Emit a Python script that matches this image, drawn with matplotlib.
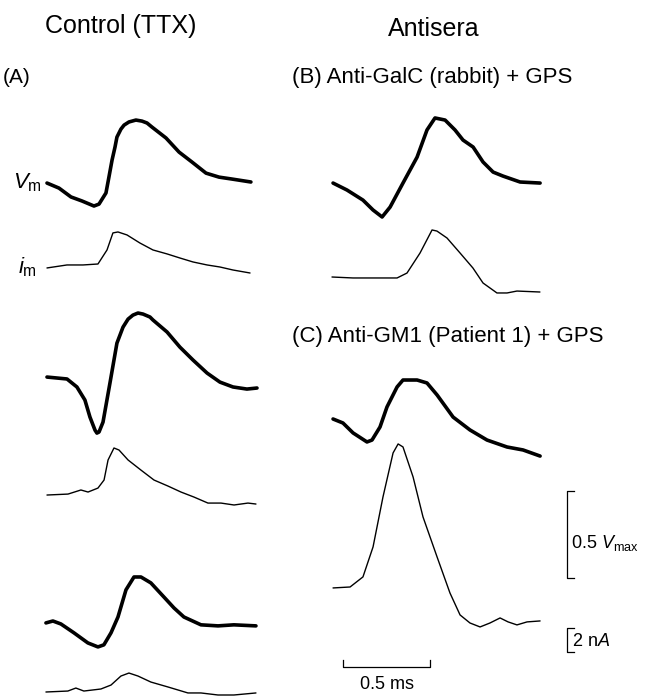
import matplotlib
matplotlib.use("Agg")
import matplotlib.pyplot as plt

plt.rcParams['font.family'] = ['Liberation Sans', 'DejaVu Sans']
plt.rcParams['mathtext.fontset'] = 'custom'
plt.rcParams['mathtext.rm'] = 'Liberation Sans'
plt.rcParams['mathtext.it'] = 'Liberation Sans:italic'

# traces: time in ms from sweep start, Vm in units of Vmax, im in nA (relative to start)
a1_t_v = [0, .069, .138, .201, .270, .299, .339, .356, .374, .391, .402, .425, .443, .471, .511, .546, .575, .603, .684, .759, .833, .914, .989, 1.063, 1.172]
a1_v = [0, -.029, -.080, -.103, -.132, -.121, -.057, .034, .132, .207, .264, .310, .333, .351, .362, .356, .345, .322, .259, .178, .121, .057, .034, .023, .006]
a1_t_i = [0, .115, .207, .293, .345, .379, .408, .460, .534, .609, .690, .764, .839, .920, .994, 1.069, 1.167]
a1_i = [0, .25, .25, .33, 1.5, 2.92, 3.0, 2.75, 2.08, 1.5, 1.17, .83, .5, .25, .08, -.17, -.42]

a2_t_v = [0, .115, .172, .218, .247, .276, .287, .299, .322, .362, .402, .437, .466, .494, .523, .552, .592, .609, .690, .764, .839, .920, .994, 1.069, 1.149, 1.207]
a2_v = [0, -.011, -.057, -.132, -.230, -.305, -.322, -.316, -.259, -.034, .195, .287, .333, .356, .368, .362, .345, .328, .259, .172, .098, .023, -.029, -.057, -.069, -.063]
a2_t_i = [0, .121, .195, .236, .293, .328, .351, .385, .414, .466, .540, .615, .695, .770, .845, .925, 1.0, 1.075, 1.155, 1.201]
a2_i = [0, .08, .42, .25, .58, 1.25, 2.92, 3.92, 3.75, 2.92, 2.08, 1.25, .75, .25, -.17, -.67, -.67, -.83, -.67, -.75]

a3_t_v = [0, .040, .086, .161, .241, .299, .333, .374, .414, .460, .506, .546, .603, .678, .736, .793, .891, .989, 1.080, 1.207]
a3_v = [0, .011, -.006, -.057, -.115, -.138, -.126, -.057, .034, .190, .264, .264, .230, .149, .086, .034, -.011, -.017, -.011, -.017]
a3_t_i = [0, .126, .172, .218, .316, .374, .431, .477, .529, .603, .701, .816, .891, .989, 1.080, 1.207]
a3_i = [0, .08, .33, .08, .25, .58, 1.33, 1.58, 1.33, .83, .42, -.08, -.08, -.25, -.25, -.08]

b_t_v = [0, .080, .172, .230, .282, .328, .402, .483, .540, .586, .644, .701, .747, .805, .862, .920, .977, 1.075, 1.190]
b_v = [0, -.040, -.098, -.155, -.195, -.138, 0, .149, .305, .374, .362, .305, .247, .207, .121, .063, .040, .006, 0]
b_t_i = [0, .121, .374, .431, .506, .575, .603, .661, .736, .810, .868, .948, 1.006, 1.063, 1.195]
b_i = [0, -.08, -.08, .33, 2.0, 3.92, 3.83, 3.25, 2.0, .75, -.5, -1.33, -1.33, -1.17, -1.25]

c_t_v = [0, .057, .115, .195, .224, .270, .310, .368, .402, .483, .540, .598, .690, .787, .885, 1.0, 1.092, 1.190]
c_v = [0, -.023, -.080, -.132, -.121, -.046, .069, .184, .224, .224, .207, .138, .011, -.063, -.121, -.161, -.178, -.213]
c_t_i = [0, .098, .172, .230, .287, .345, .374, .402, .460, .517, .598, .672, .730, .787, .845, .902, .960, 1.006, 1.057, 1.115, 1.190]
c_i = [0, .08, .92, 3.42, 7.58, 11.25, 12.0, 11.75, 9.25, 5.92, 2.58, -.42, -2.25, -2.92, -3.25, -2.92, -2.5, -2.83, -3.08, -2.83, -2.75]

# scale bars
bar_ms = 0.5
bar_vmax = 0.5
bar_na = 2

# layout (axis units: ms across, Vmax up)
NA = 12 / 174.0   # 1 nA drawn as this many Vmax units
colA, colB = 0.270, 1.914
sweeps = [
    (a1_t_v, a1_v, colA, 2.948, 1.0, 2.6),
    (a1_t_i, a1_i, colA, 2.460, NA, 1.0),
    (a2_t_v, a2_v, colA, 1.833, 1.0, 2.6),
    (a2_t_i, a2_i, colA, 1.155, NA, 1.0),
    (a3_t_v, a3_v, colA - 0.006, 0.420, 1.0, 2.6),
    (a3_t_i, a3_i, colA - 0.006, 0.023, NA, 1.0),
    (b_t_v, b_v, colB, 2.948, 1.0, 2.6),
    (b_t_i, b_i, colB - 0.006, 2.408, NA, 1.0),
    (c_t_v, c_v, colB, 1.592, 1.0, 2.6),
    (c_t_i, c_i, colB, 0.621, NA, 1.0),
]

fig = plt.figure(figsize=(6.5, 6.96), dpi=100)
ax = fig.add_axes([0, 0, 1, 1])
ax.set_xlim(0, 650 / 174.0)
ax.set_ylim(0, 696 / 174.0)
ax.axis('off')

for t, y, x0, y0, k, lw in sweeps:
    ax.plot([x0 + v for v in t], [y0 + k * v for v in y], color='black', lw=lw,
            solid_joinstyle='round', solid_capstyle='round')

# time bar
tx, ty = 343 / 174.0, 29 / 174.0
tk = 7 / 174.0
ax.plot([tx, tx, tx + bar_ms, tx + bar_ms], [ty + tk, ty, ty, ty + tk], color='black', lw=0.9)
# Vmax bar
vx, vy = 567 / 174.0, 118 / 174.0
ax.plot([vx + tk, vx, vx, vx + tk], [vy, vy, vy + bar_vmax, vy + bar_vmax], color='black', lw=0.9)
# nA bar
nx, ny = 567 / 174.0, 44 / 174.0
ax.plot([nx + tk, nx, nx, nx + tk], [ny, ny, ny + bar_na * NA, ny + bar_na * NA], color='black', lw=0.9)

fig.text(0.186, 0.963, 'Control (TTX)', fontsize=18, ha='center', va='center')
fig.text(0.667, 0.958, 'Antisera', fontsize=18, ha='center', va='center')
fig.text(0.005, 0.888, '(A)', fontsize=15, ha='left', va='center')
fig.text(0.449, 0.889, '(B) Anti-GalC (rabbit) + GPS', fontsize=16, ha='left', va='center')
fig.text(0.449, 0.516, '(C) Anti-GM1 (Patient 1) + GPS', fontsize=16, ha='left', va='center')
fig.text(0.02, 0.738, r'$\mathit{V}_{\mathrm{m}}$', fontsize=16, ha='left', va='center')
fig.text(0.028, 0.616, r'$\mathit{i}_{\mathrm{m}}$', fontsize=16, ha='left', va='center')
fig.text(0.878, 0.22, r'0.5 $\mathit{V}_{\mathrm{max}}$', fontsize=13, ha='left', va='center')
fig.text(0.88, 0.079, r'2 n$\mathit{A}$', fontsize=13, ha='left', va='center')
fig.text(0.595, 0.017, '0.5 ms', fontsize=13, ha='center', va='center')

fig.savefig('out.png', dpi=100, facecolor='white')
